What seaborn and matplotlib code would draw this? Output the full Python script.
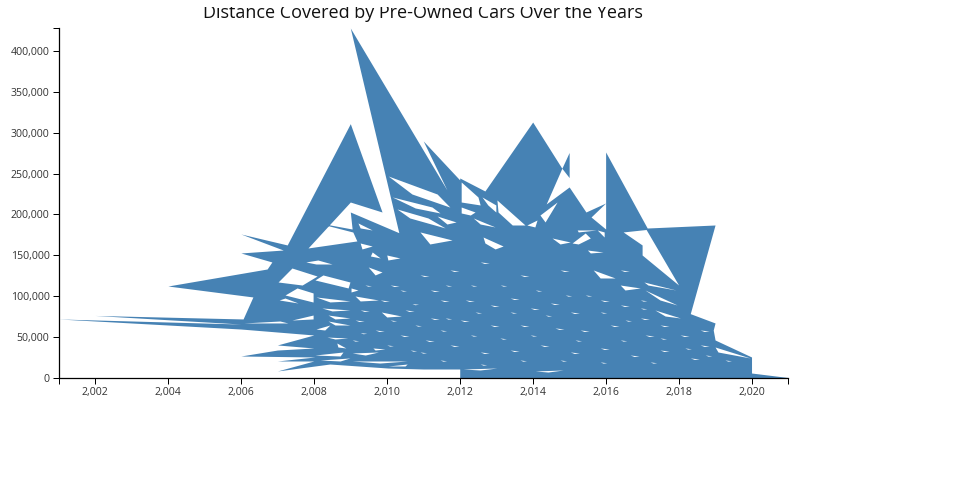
import numpy as np
import matplotlib
matplotlib.use("Agg")
import matplotlib.pyplot as plt
import seaborn as sns
from matplotlib.transforms import Bbox, IdentityTransform, TransformedBbox

TITLE = "Distance Covered by Pre-Owned Cars Over the Years"
X_TICKS = [2002, 2004, 2006, 2008, 2010, 2012, 2014, 2016, 2018, 2020]
Y_TICKS = [0, 50000, 100000, 150000, 200000, 250000, 300000, 350000, 400000]

outline_year = [2012, 2012, 2011, 2010.03, 2008.44, 2007, 2008, 2007, 2008.03, 2006, 2007, 2008, 2007, 2008,
                2006, 2001, 2006, 2002, 2006.06, 2006.33, 2004, 2006.72, 2006.85, 2006, 2007.16, 2006, 2007.27,
                2009, 2009.87, 2009, 2007.84, 2009.18, 2009.07, 2008, 2009.05, 2009, 2010.33, 2009, 2011.65,
                2011, 2012, 2012, 2012.69, 2014, 2014.8, 2015, 2015, 2014.8, 2014.37, 2015, 2015.46, 2016,
                2015.6, 2016, 2016, 2017.14, 2019, 2018.32, 2019, 2018.95, 2019, 2020, 2020, 2021, 2020, 2012]
outline_km = [0, 11000, 11000, 12200, 17100, 8600, 20800, 20800, 25700, 26900, 34200, 36700, 40400, 52600,
              59900, 72200, 66000, 76500, 72200, 99100, 112500, 133300, 141900, 152900, 156500, 176100, 162700,
              311000, 203000, 215200, 159000, 167600, 178500, 190800, 182200, 203000, 177700, 428000, 229900,
              289900, 242200, 244600, 228700, 313000, 256500, 275800, 245100, 256500, 212800, 233600, 203000, 214000,
              196900, 182200, 276400, 183400, 187100, 78700, 67300, 58700, 46500, 25700, 6100, 600, 0, 0]

gap_years = [
    [2010.04, 2011.38, 2011.73, 2010.69], [2010.15, 2011.24, 2011.46, 2010.78], [2010.28, 2011.13, 2011.6, 2010.63],
    [2012.04, 2012.5, 2012.56, 2012.04], [2012.04, 2012.42, 2012.29, 2012.04], [2012.37, 2012.97, 2012.56],
    [2012.61, 2012.99, 2012.99, 2012.77], [2013.02, 2013.79, 2013.44, 2013.05], [2013.84, 2014.12, 2014.06],
    [2014.2, 2014.67, 2014.34], [2011.38, 2011.9, 2011.65], [2010.91, 2011.79, 2011.18],
    [2012.64, 2013.19, 2012.97, 2012.69], [2014.53, 2015.03, 2014.75], [2015.08, 2015.44, 2015.58, 2015.25],
    [2015.5, 2015.93, 2015.58], [2015.77, 2015.96, 2015.96], [2015.22, 2015.74, 2015.25],
    [2016.48, 2017.11, 2018, 2017, 2017], [2016.4, 2016.95, 2016.53], [2017.05, 2017.93, 2017.16],
    [2015.66, 2016.26, 2015.85], [2017.08, 2017.96, 2017.49], [2017.35, 2018.05, 2017.63],
    [2007.78, 2008.11, 2008.5, 2008.06], [2007.02, 2007.4, 2008.09, 2007.68], [2007.21, 2007.54, 2007.98, 2007.98],
    [2007.05, 2007.21, 2007.57], [2008.25, 2008.99, 2008.94, 2008.03], [2009.49, 2009.87, 2009.68],
    [2009.21, 2009.6, 2009.27], [2009.27, 2009.6, 2009.32], [2009.6, 2009.82, 2009.55], [2010, 2010.36, 2010.03],
    [2009.02, 2009.21, 2009.02], [2007.4, 2007.98, 2007.98], [2006.08, 2007.07, 2007.29], [2008.39, 2008.99, 2008.58],
    [2008.39, 2008.99, 2008.58], [2008.06, 2008.44, 2008.3], [2008.36, 2008.93, 2008.58], [2008.63, 2008.88, 2008.66],
    [2008.03, 2008.8, 2008.72], [2009.05, 2009.77, 2009.41], [2008.17, 2008.99, 2008.72], [2009.05, 2010.56, 2009.81],
    [2010.04, 2010.56, 2010.5], [2009.62, 2009.95, 2009.68], [2012.09, 2013.02, 2012.56], [2014.07, 2014.84, 2014.42],
    [2016.07, 2017.96, 2016.95], [2019, 2019.96, 2019.08], [2008.06, 2008.99, 2008.44], [2008.22, 2008.99, 2008.5],
    [2009.13, 2009.77, 2009.27], [2009.85, 2010.4, 2010],
]
gap_km = [
    [247000, 225000, 209000, 225000], [221400, 209100, 201800, 207900], [206700, 195700, 183500, 195700],
    [239700, 221400, 211600, 215200], [209100, 203000, 199300, 201800], [195700, 184700, 188300],
    [221400, 211600, 203000, 211600], [217700, 187100, 187100, 203000], [187100, 193200, 184700],
    [199300, 215200, 190800], [198100, 190800, 188300], [178600, 168800, 163900],
    [172400, 161400, 157800, 165100], [171200, 166300, 163900], [165100, 177300, 171200, 163900],
    [156500, 154100, 152900], [181000, 178600, 172400], [181000, 181000, 178600],
    [178600, 181600, 113700, 150400, 162700], [113700, 110100, 107600], [117400, 107600, 113700],
    [132100, 122300, 122300], [107600, 89300, 95400], [83200, 73400, 75800],
    [141900, 144300, 139400, 139400], [117400, 134500, 124700, 113700], [101500, 110100, 104000, 92900],
    [95400, 97800, 91700], [126000, 117400, 110100, 119900], [135800, 129600, 126000],
    [189600, 181000, 183500], [165100, 161400, 157800], [154100, 146800, 149200], [150400, 146800, 144300],
    [110100, 107600, 105200], [70900, 77000, 72200], [67300, 69700, 67300], [77000, 73400, 72200],
    [69700, 64800, 64800], [59900, 64800, 58700], [50100, 48900, 47700], [42800, 36700, 37900],
    [28100, 31800, 26900], [30600, 31800, 28100], [22000, 24500, 20800], [20800, 20800, 18300],
    [14700, 17100, 14700], [36700, 35500, 34200], [11000, 12200, 9800], [8600, 9800, 7300],
    [3700, 2400, 3100], [37900, 24500, 31800], [99100, 94200, 93000], [85600, 83200, 82000],
    [100300, 95400, 94200], [80700, 75800, 74600],
]

fleck_years = [
    [2011.19, 2011.44, 2011.3], [2011.46, 2011.71, 2011.57], [2012.15, 2012.4, 2012.26], [2012.83, 2013.08, 2012.94],
    [2013.38, 2013.63, 2013.49], [2013.93, 2014.18, 2014.04], [2014.48, 2014.73, 2014.59], [2015.03, 2015.28, 2015.14],
    [2015.85, 2016.1, 2015.96], [2016.4, 2016.65, 2016.51], [2016.95, 2017.2, 2017.06], [2017.49, 2017.74, 2017.6],
    [2018.04, 2018.29, 2018.15], [2018.59, 2018.84, 2018.7], [2017.08, 2017.33, 2017.19], [2016.12, 2016.37, 2016.23],
    [2015.3, 2015.55, 2015.41], [2014.61, 2014.86, 2014.72], [2013.65, 2013.9, 2013.76], [2012.83, 2013.08, 2012.94],
    [2012.01, 2012.26, 2012.12], [2011.19, 2011.44, 2011.3], [2010.5, 2010.75, 2010.61], [2009.82, 2010.07, 2009.93],
    [2009.27, 2009.52, 2009.38], [2009.13, 2009.38, 2009.24], [2009.68, 2009.93, 2009.79], [2010.36, 2010.61, 2010.47],
    [2011.05, 2011.3, 2011.16], [2011.73, 2011.98, 2011.84], [2012.56, 2012.81, 2012.67], [2013.38, 2013.63, 2013.49],
    [2014.2, 2014.45, 2014.31], [2015.03, 2015.28, 2015.14], [2015.85, 2016.1, 2015.96], [2016.67, 2016.92, 2016.78],
    [2017.49, 2017.74, 2017.6], [2018.32, 2018.57, 2018.43], [2018.59, 2018.84, 2018.7], [2010.09, 2010.34, 2010.2],
    [2010.91, 2011.16, 2011.02], [2011.73, 2011.98, 2011.84], [2012.56, 2012.81, 2012.67], [2013.65, 2013.9, 2013.76],
    [2014.75, 2015.0, 2014.86], [2016.4, 2016.65, 2016.51],
    [2009.4, 2009.58, 2009.48], [2010.36, 2010.54, 2010.44], [2010.69, 2010.87, 2010.77], [2011.6, 2011.78, 2011.68],
    [2012.29, 2012.47, 2012.37], [2013.11, 2013.29, 2013.19], [2014.07, 2014.25, 2014.15], [2014.89, 2015.07, 2014.97],
    [2015.44, 2015.62, 2015.52], [2016.95, 2017.13, 2017.03], [2016.95, 2017.13, 2017.03], [2016.53, 2016.71, 2016.61],
    [2015.85, 2016.03, 2015.93], [2014.34, 2014.52, 2014.42], [2013.38, 2013.56, 2013.46], [2012.42, 2012.6, 2012.5],
    [2011.6, 2011.78, 2011.68], [2010.77, 2010.95, 2010.85], [2010.09, 2010.27, 2010.17], [2009.27, 2009.45, 2009.35],
    [2009.05, 2009.23, 2009.13], [2010, 2010.18, 2010.08], [2010.64, 2010.82, 2010.72], [2011.46, 2011.64, 2011.54],
    [2012.29, 2012.47, 2012.37], [2013.1, 2013.28, 2013.18], [2013.93, 2014.11, 2014.01], [2015.16, 2015.34, 2015.24],
    [2016.4, 2016.58, 2016.48], [2017.49, 2017.67, 2017.57], [2018.17, 2018.35, 2018.25], [2018.73, 2018.91, 2018.81],
    [2019.27, 2019.45, 2019.35], [2017.22, 2017.4, 2017.3], [2015.85, 2016.03, 2015.93], [2014.75, 2014.93, 2014.83],
    [2013.65, 2013.83, 2013.73], [2012.56, 2012.74, 2012.64], [2011.46, 2011.64, 2011.54], [2010.91, 2011.09, 2010.99],
]
fleck_km = [
    [107600, 106400, 105800], [95400, 94200, 93600], [95400, 94200, 93600], [89300, 88100, 87500],
    [97800, 96600, 96000], [85600, 84400, 83800], [91700, 90500, 89900], [80700, 79500, 78900],
    [95400, 94200, 93600], [89300, 88100, 87500], [73400, 72200, 71600], [64800, 63600, 63000],
    [52600, 51400, 50800], [40400, 39200, 38600], [52600, 51400, 50800], [64800, 63600, 63000],
    [58700, 57500, 56900], [61200, 60000, 59400], [64800, 63600, 63000], [64800, 63600, 63000],
    [70900, 69700, 69100], [73400, 72200, 71600], [83200, 82000, 81400], [95400, 94200, 93600],
    [83200, 82000, 81400], [70900, 69700, 69100], [58700, 57500, 56900], [52600, 51400, 50800],
    [46500, 45300, 44700], [40400, 39200, 38600], [31800, 30600, 30000], [34200, 33000, 32400],
    [40400, 39200, 38600], [31800, 30600, 30000], [36700, 35500, 34900], [28100, 26900, 26300],
    [34200, 33000, 32400], [24500, 23300, 22700], [58700, 57500, 56900], [113700, 112500, 111900],
    [126000, 124800, 124200], [132100, 130900, 130300], [141900, 140700, 140100], [126000, 124800, 124200],
    [132100, 130900, 130300], [132100, 130900, 130300],
    [113700, 112800, 112300], [107600, 106700, 106200], [91000, 90100, 89600], [113700, 112800, 112300],
    [113700, 112800, 112300], [113700, 112800, 112300], [107600, 106700, 106200], [101500, 100600, 100100],
    [101500, 100600, 100100], [95400, 94500, 94000], [85600, 84700, 84200], [70900, 70000, 69500],
    [80700, 79800, 79300], [77000, 76100, 75600], [80700, 79800, 79300], [80700, 79800, 79300],
    [73400, 72500, 72000], [64800, 63900, 63400], [70900, 70000, 69500], [55500, 54600, 54100],
    [46500, 45600, 45100], [40400, 39500, 39000], [34200, 33300, 32800], [58700, 57800, 57300],
    [52600, 51700, 51200], [48900, 48000, 47500], [52600, 51700, 51200], [46500, 45600, 45100],
    [46500, 45600, 45100], [48900, 48000, 47500], [36700, 35800, 35300], [28100, 27200, 26700],
    [22000, 21100, 20600], [19600, 18700, 18200], [19600, 18700, 18200], [22000, 21100, 20600],
    [22000, 21100, 20600], [17100, 16200, 15700], [22000, 21100, 20600], [31800, 30900, 30400],
]


def signed_area(xs, ys):
    xs, ys = np.asarray(xs, float), np.asarray(ys, float)
    return 0.5 * np.sum(xs * np.roll(ys, -1) - np.roll(xs, -1) * ys)


# The area's top line runs through the outline, then visits each gap against the
# outline's sense and comes back, so the gaps stay unfilled.
path_year = list(outline_year)
path_km = list(outline_km)
outline_sign = np.sign(signed_area(outline_year, outline_km))
for ys, ks in zip(gap_years + fleck_years, gap_km + fleck_km):
    if np.sign(signed_area(ys, ks)) == outline_sign:
        ys, ks = ys[::-1], ks[::-1]
    path_year += list(ys) + [ys[0], outline_year[-1]]
    path_km += list(ks) + [ks[0], outline_km[-1]]
path_year = np.array(path_year, float)
path_km = np.array(path_km, float)

sns.set_theme(style="white")
plt.rcParams["font.family"] = ["Open Sans", "DejaVu Sans"]

fig = plt.figure(figsize=(9.6, 5.0), dpi=100, facecolor="white")
ax = fig.add_axes([58.5 / 960, 122 / 500, 729.5 / 960, 350 / 500])
sns.lineplot(x=path_year, y=path_km, sort=False, estimator=None, linewidth=0, color="#4682b4", ax=ax)
ax.fill_between(path_year, path_km, 0, color="#4682b4", linewidth=0)

ax.set_xlim(2001, 2021)
ax.set_ylim(0, 428000)
ax.set_xticks([2001, 2021] + X_TICKS)
ax.set_xticklabels([""] * 2 + [f"{v:,}" for v in X_TICKS])
ax.set_yticks(Y_TICKS + [428000])
ax.set_yticklabels([f"{v:,}" for v in Y_TICKS] + [""])
ax.tick_params(axis="both", length=4.3, width=0.72, color="black", labelsize=7.6,
               labelcolor="#333333", pad=2.2, direction="out", bottom=True, left=True)
sns.despine(ax=ax)
for side in ("left", "bottom"):
    ax.spines[side].set_color("black")
    ax.spines[side].set_linewidth(0.9)

title = fig.text(423 / 960, (500 - 18) / 500, TITLE, ha="center", va="baseline", fontsize=13, color="#111111")
title.set_clip_box(TransformedBbox(Bbox([[0, 0], [960, 493]]), IdentityTransform()))
title.set_clip_on(True)

fig.savefig("out.png", dpi=100)
